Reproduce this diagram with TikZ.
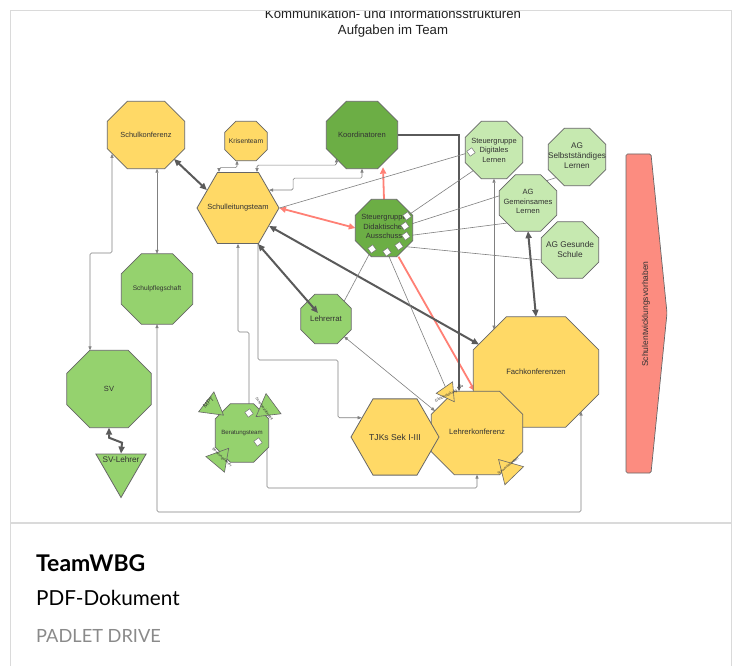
\documentclass[tikz,border=0pt]{standalone}
\usepackage{fontspec}
\setmainfont{Liberation Sans}
\newfontfamily\uifont{Lato}
\usetikzlibrary{shapes.geometric,arrows.meta,calc}
\newcommand\fs[2]{\fontsize{#1}{#2}\selectfont}
\definecolor{yel}{HTML}{FFD966}
\definecolor{dgr}{HTML}{6CAE45}
\definecolor{mgr}{HTML}{95D26E}
\definecolor{lgr}{HTML}{C6E9B0}
\definecolor{sal}{HTML}{FC8C80}
\definecolor{redl}{HTML}{FF8075}
\definecolor{bord}{HTML}{666666}
\definecolor{thinc}{HTML}{808080}
\definecolor{thickc}{HTML}{5A5A5A}
\definecolor{txt}{HTML}{333333}
\definecolor{titc}{HTML}{222222}
\definecolor{cardc}{HTML}{DADADA}
\definecolor{dimc}{HTML}{8A8A8A}
\pgfdeclarelayer{back}
\pgfdeclarelayer{bg}
\pgfsetlayers{back,bg,main}
\tikzset{
  hexa/.style={regular polygon, regular polygon sides=6, draw=bord, line width=0.8pt, fill=#1, inner sep=0pt},
  tri/.style={regular polygon, regular polygon sides=3, draw=bord, line width=0.6pt, fill=#1, inner sep=0pt},
  lbl/.style={align=center, text=txt, inner sep=0pt},
  sq/.style={draw=bord, line width=0.4pt, fill=white, minimum size=6pt, inner sep=0pt, rotate=35},
  thn/.style={draw=thinc, line width=0.6pt, rounded corners=1.5pt, >={Triangle[length=4pt,width=3.2pt]}},
  thk/.style={draw=thickc, line width=2pt, >={Triangle[length=7pt,width=6pt]}},
  redarr/.style={draw=redl, line width=1.8pt, >={Triangle[length=6.5pt,width=6pt]}},
  dkl/.style={draw=thickc, line width=1.1pt, >={Triangle[length=4.5pt,width=3.6pt]}},
}
% octagon: name, x, y, width, height, chamfer, fill
\newcommand\octa[7]{%
  \node[inner sep=0pt, minimum width=#4pt, minimum height=#5pt] (#1) at (#2,#3) {};
  \filldraw[draw=bord, line width=0.8pt, fill=#7]
    ($(#1.north west)+(#6,0)$) -- ($(#1.north east)+(-#6,0)$) --
    ($(#1.north east)+(0,#6)$) -- ($(#1.south east)+(0,-#6)$) --
    ($(#1.south east)+(-#6,0)$) -- ($(#1.south west)+(#6,0)$) --
    ($(#1.south west)+(0,-#6)$) -- ($(#1.north west)+(0,#6)$) -- cycle;}
\begin{document}
\begin{tikzpicture}[x=1pt,y=-1pt]
\useasboundingbox (0,0) rectangle (740,666);
\begin{pgfonlayer}{back}
\fill[white] (0,0) rectangle (740,666);
\draw[cardc, line width=1pt] (10,666) -- (10,11) -- (731,11) -- (731,666);
\draw[cardc, line width=2pt] (10,523) -- (731,523);
\end{pgfonlayer}

% title (clipped at top)
\begin{scope}
\clip (10,11.5) rectangle (731,522);
\node[anchor=base, inner sep=0pt, font=\fs{13.2}{15}, text=titc] (t1) at (393,18.5) {Kommunikation- und Informationsstrukturen};
\node[anchor=base, inner sep=0pt, font=\fs{13.2}{15}, text=titc] (t2) at (393,35) {Aufgaben im Team};
\end{scope}

% octagon nodes
\octa{skonf}{146}{135}{77}{67}{20}{yel}
\node[lbl, font=\fs{7.4}{9}] (skonft) at (skonf) {Schulkonferenz};
\octa{krisen}{246}{141}{42}{39}{11}{yel}
\node[lbl, font=\fs{6.8}{8}] (krisent) at (krisen) {Krisenteam};
\octa{koord}{362}{135}{71}{67}{20}{dgr}
\node[lbl, font=\fs{7.6}{9}] (koordt) at (koord) {Koordinatoren};
\octa{sgdl}{494}{150}{57}{57}{16}{lgr}
\node[lbl, font=\fs{7.5}{9.5}] (sgdlt) at (sgdl) {Steuergruppe\\Digitales\\Lernen};
\octa{agsl}{577}{157}{57}{57}{16}{lgr}
\node[lbl, font=\fs{8.2}{10}] (agslt) at ($(agsl)+(0,-1)$) {AG\\Selbstständiges\\Lernen};
\octa{aggl}{528}{203}{57}{56}{16}{lgr}
\node[lbl, font=\fs{7.6}{9.5}] (agglt) at ($(aggl)+(0,-1.5)$) {AG\\Gemeinsames\\Lernen};
\octa{aggs}{570}{250}{57}{56}{16}{lgr}
\node[lbl, font=\fs{8.3}{10}] (aggst) at (aggs) {AG Gesunde\\Schule};
\octa{sgda}{384}{228}{57}{57}{16}{dgr}
\node[lbl, font=\fs{7.5}{9.5}] (sgdat) at ($(sgda)+(0,-1.5)$) {Steuergruppe\\Didaktischer\\Ausschuss};
\octa{spfl}{157}{289}{71}{70}{20}{mgr}
\node[lbl, font=\fs{6.6}{8}] (spflt) at (spfl) {Schulpflegschaft};
\octa{lrat}{326}{319}{50}{49}{14}{mgr}
\node[lbl, font=\fs{7.8}{9}] (lratt) at (lrat) {Lehrerrat};
\octa{sv}{109}{389}{84}{77}{23}{mgr}
\node[lbl, font=\fs{7.5}{9}] (svt) at (sv) {SV};
\octa{berat}{242}{433}{53}{58}{15}{mgr}
\node[lbl, font=\fs{6.1}{7}] (beratt) at (berat) {Beratungsteam};
\octa{fach}{536}{372}{125}{110}{33}{yel}
\node[lbl, font=\fs{7.7}{9}] (facht) at (fach) {Fachkonferenzen};
\octa{lkonf}{477}{433}{91}{83}{23}{yel}
\node[lbl, font=\fs{7.65}{9}] (lkonft) at ($(lkonf)+(0,-1)$) {Lehrerkonferenz};

% hexagons and triangle nodes
\node[hexa=yel, minimum size=82pt] (slt) at (238,208) {};
\node[lbl, font=\fs{7.5}{9}] (sltt) at (slt) {Schulleitungsteam};
\node[hexa=yel, minimum size=88pt] (tjk) at (395,437) {};
\node[lbl, font=\fs{8.6}{10}] (tjkt) at (tjk) {TJKs Sek I-III};
\node[tri=mgr, minimum size=58pt, shape border rotate=180, line width=0.8pt] (svl) at (121,468.5) {};
\node[lbl, font=\fs{8.2}{9}] (svlt) at (121,460) {SV-Lehrer};

% small satellite triangles
\node[tri=mgr, minimum size=29pt, shape border rotate=-127.6] (mpt) at (212,406.3) {};
\node[lbl, font=\fs{6}{7}, rotate=43.5] (mptt) at (208.5,402.5) {MPT};
\node[tri=mgr, minimum size=29pt, shape border rotate=6.5] (ssa) at (267.7,408) {};
\node[lbl, font=\fs{3.6}{4}, rotate=-54] (ssat) at (264.5,409) {Schulsozialarbeit};
\node[tri=mgr, minimum size=28pt, shape border rotate=-40] (btl) at (219.7,459) {};
\node[lbl, font=\fs{3.6}{4}, rotate=-44] (btlt) at (222,457.5) {Beratungslehrer};
\node[tri=yel, minimum size=23pt, shape border rotate=-25] (gl) at (447.7,392.3) {};
\node[lbl, font=\fs{3.8}{4}, rotate=26] (glt) at (446,396) {Gleichstellung};
\node[lbl, font=\fs{3.8}{4}] (glb) at (461,386) {Ba};
\node[tri=yel, minimum size=30pt, shape border rotate=44] (lk2) at (509,470.3) {};
\node[lbl, font=\fs{3.4}{4}, rotate=38] (lk2t) at (508,466) {Schwerbehindert};

% Schulentwicklungsvorhaben
\draw[draw=bord, line width=0.7pt, fill=sal, rounded corners=1.5pt]
  (626,154) -- (651,154) -- (667,313) -- (651,473) -- (626,473) -- cycle;
\node[lbl, rotate=90, font=\fs{8.5}{9}] (sevt) at (646,314) {Schulentwicklungsvorhaben};

% connection squares
\node[sq] (q0) at (471,152) {};
\node[sq] (q1) at (407,216) {};
\node[sq] (q2) at (405,226) {};
\node[sq] (q3) at (406,236) {};
\node[sq] (q4) at (372,249) {};
\node[sq] (q5) at (387,252) {};
\node[sq] (q6) at (399,246) {};
\node[sq] (q7) at (249,413) {};
\node[sq] (q8) at (258,442) {};

% helper coordinates
\coordinate (c253) at (90,253);
\coordinate (c332) at (238,332);
\coordinate (c360) at (338,360);
\coordinate (c512) at (0,512);

\begin{pgfonlayer}{bg}
\draw[thk,<->] ($(skonf)+(28,24)$) -- (slt.150);
\draw[thn,<->] (spfl.north |- skonf.south) -- (spfl.north);
\draw[thn,<->] ($(skonf)+(-34,19)$) |- (c253) -- (c253 |- sv.north);
\draw[thn,<->] ($(krisen.south)+(-9,0)$) -- ++(0,7) -| ($(slt.90)+(-19,0)$);
\draw[thn,<->] ($(slt.90)+(19,0)$) -- ++(0,-7) -| ($(koord)+(-25.5,23.5)$);
\draw[thn,<->] (koord.south) -- ++(0,9.5) -| ($(slt.30)+(24,0)$) -- (slt.30);
\draw[redarr,->] (sgda.north) -- ($(koord.south)+(21,-1.5)$);
\draw[redarr,<->] (slt.0) -- (sgda.west);
\draw[redarr,->] ($(sgda.south)+(14.5,0)$) -- ($(lkonf.north)+(-2,0)$);
\draw[dkl,->] (koord.east) -| ($(lkonf.north)+(-18,0)$);
\draw[thk,<->] (slt.-30) -- ($(fach)+(-57,-27.5)$);
\draw[thn] ($(lrat)+(18,-17.5)$) -- (q4);
\draw[thn,<->] ($(lrat)+(18,17.5)$) -- ($(lkonf)+(-42,-22)$);
\draw[thn] (q5) -- (gl);
\draw[thn] (q1) -- ($(sgdl)+(-20.5,20.5)$);
\draw[thn] (q2) -- ($(agsl)+(-20.5,20.5)$);
\draw[thn] (q3) -- ($(aggl)+(-20.5,20)$);
\draw[thn] (q6) -- ($(aggs)+(-28.5,10)$);
\draw[thn] (q0) -- (slt.0);
\draw[thn,<->] (sgdl.south) -- ($(fach)+(-42,-42.5)$);
\draw[thk,<->] (aggl.south) -- (fach.north);
\draw[thn,<->] (spfl.south) -- (spfl.south |- c512) -| ($(fach)+(45,39.5)$);
\draw[thn,->] ($(berat)+(25,15.5)$) -- ($(berat)+(25,55)$) -| (lkonf.south);
\draw[thn,->] ($(berat.north)+(7,0)$) |- (c332) -- (slt.270);
\draw[thn,->] ($(slt.270)+(20,0)$) |- (c360) |- (tjk.150);
\draw[thk,<->] (sv.south) -- ++(0,10) -- ++(13,5) -- (svl.90);
\end{pgfonlayer}
\draw[thk,<->] (slt.-61) -- ($(lrat.center)+(-8,-6)$);

% card text
\node[anchor=base west, inner sep=0pt, font=\uifont\bfseries\fs{23}{25}, text=black] (tname) at (36,571) {TeamWBG};
\node[anchor=base west, inner sep=0pt, font=\uifont\fs{20.7}{22}, text=black] (ttype) at (36,605) {PDF-Dokument};
\node[anchor=base west, inner sep=0pt, font=\uifont\fs{18.2}{19}, text=dimc] (tsrc) at (36,642) {PADLET DRIVE};
\end{tikzpicture}
\end{document}
